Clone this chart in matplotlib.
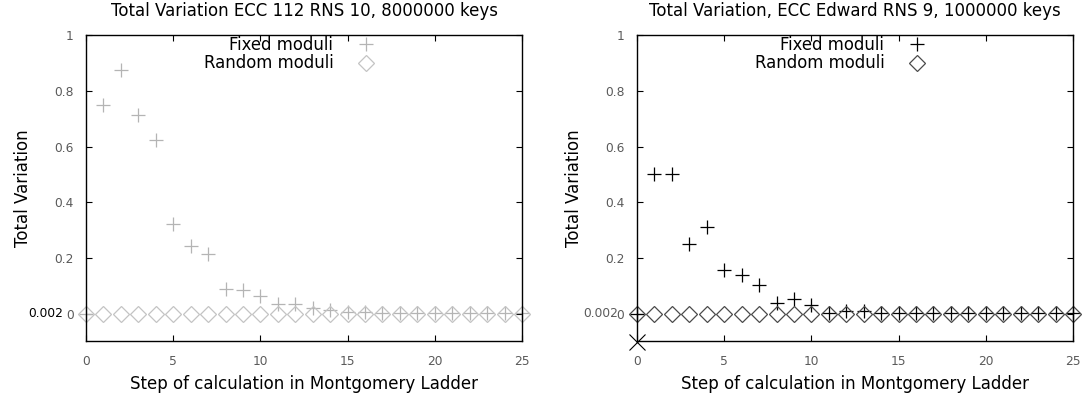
import matplotlib
matplotlib.use("Agg")
import matplotlib.pyplot as plt

steps = list(range(26))

# ECC 112, RNS 10, 8000000 keys
fixed_112 = [0.0, 0.75, 0.875, 0.715, 0.622, 0.323, 0.245, 0.216, 0.088, 0.086,
             0.065, 0.036, 0.037, 0.02, 0.013, 0.008, 0.007, 0.003, 0.002, 0.002,
             0.002, 0.002, 0.002, 0.002, 0.002, 0.002]
random_112 = [0.0] * 26

# ECC Edward, RNS 9, 1000000 keys
fixed_ed = [0.0, 0.5, 0.5, 0.25, 0.3125, 0.157, 0.138, 0.1025, 0.038, 0.055,
            0.031, 0.005, 0.011, 0.011, 0.004, 0.002, 0.002, 0.002, 0.002, 0.002,
            0.002, 0.002, 0.002, 0.002, 0.002, 0.002]
random_ed = [0.0] * 26
outlier_ed_x = [0]
outlier_ed_y = [-0.1]

yticks = [0, 0.2, 0.4, 0.6, 0.8, 1]
ytick_labels = ["0", "0.2", "0.4", "0.6", "0.8", "1"]
xticks = [0, 5, 10, 15, 20, 25]

TICK_GREY = "#5a5a5a"
FS = 12.0
TICK_FS = 8.8


def style_axes(ax, title, extra_color, extra_x):
    ax.set_xlim(0, 25)
    ax.set_ylim(-0.097, 1)
    ax.set_xticks(xticks)
    ax.set_yticks(yticks)
    ax.set_yticklabels(ytick_labels)
    ax.tick_params(direction="in", top=True, right=True, length=4, width=0.8,
                   labelsize=TICK_FS, labelcolor=TICK_GREY)
    ax.tick_params(axis="x", pad=10)
    ax.tick_params(axis="y", pad=9)
    ax.set_title(title, fontsize=FS, pad=14)
    ax.set_xlabel("Step of calculation in Montgomery Ladder", fontsize=FS, labelpad=5)
    ax.set_ylabel("Total Variation", fontsize=FS, labelpad=16)
    for s in ax.spines.values():
        s.set_linewidth(1.0)
    # the 0.002 label sits on top of the zero tick label
    ax.text(extra_x, 0.0, "0.002", transform=ax.get_yaxis_transform(),
            ha="right", va="center", fontsize=TICK_FS, color=extra_color)


fig = plt.figure(figsize=(10.9, 3.98), dpi=100)
ax1 = fig.add_axes([0.0789, 0.1432, 0.40, 0.7688])
ax2 = fig.add_axes([0.5844, 0.1432, 0.40, 0.7688])

ax1.plot(steps, fixed_112, linestyle="none", marker="+", markersize=9.5,
         markeredgewidth=0.9, color="#b4b4b4", label="Fixed moduli", clip_on=False)
ax1.plot(steps, random_112, linestyle="none", marker="D", markersize=7.8,
         markeredgewidth=0.9, markerfacecolor="none", markeredgecolor="#c4c4c4",
         label="Random moduli", clip_on=False)
style_axes(ax1, "Total Variation ECC 112 RNS 10, 8000000 keys", "black", -0.053)

ax2.plot(steps, fixed_ed, linestyle="none", marker="+", markersize=9.5,
         markeredgewidth=0.9, color="black", label="Fixed moduli", clip_on=False)
ax2.plot(steps, random_ed, linestyle="none", marker="D", markersize=7.8,
         markeredgewidth=0.9, markerfacecolor="none", markeredgecolor="#4a4a4a",
         label="Random moduli", clip_on=False)
ax2.plot(outlier_ed_x, outlier_ed_y, linestyle="none", marker="x", markersize=11,
         markeredgewidth=0.8, color="black", clip_on=False)
style_axes(ax2, "Total Variation, ECC Edward RNS 9, 1000000 keys", TICK_GREY, -0.044)

for ax in (ax1, ax2):
    ax.legend(loc="upper right", bbox_to_anchor=(0.679, 1.02), frameon=False,
              markerfirst=False, fontsize=11.9, handlelength=1.2, handletextpad=1.35,
              labelspacing=0.05, borderaxespad=0)

fig.savefig("out.png", dpi=100)
